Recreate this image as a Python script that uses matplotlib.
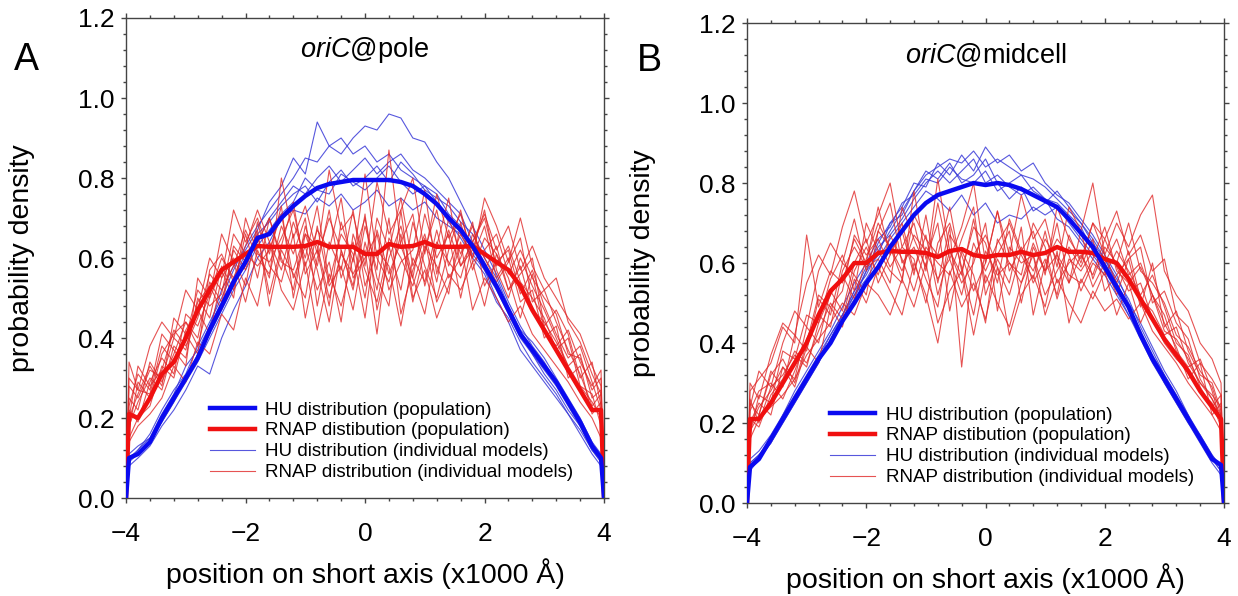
import matplotlib

matplotlib.use("Agg")

import matplotlib.pyplot as plt
from matplotlib.ticker import FormatStrFormatter, MultipleLocator

plt.rcParams["font.family"] = ["Liberation Sans", "DejaVu Sans"]
plt.rcParams["mathtext.fontset"] = "custom"
plt.rcParams["mathtext.rm"] = "Liberation Sans"
plt.rcParams["mathtext.it"] = "Liberation Sans:italic"

# shared x grid (x1000 A) for every curve
X = [-4.0, -3.95, -3.8, -3.6, -3.4, -3.2, -3.0, -2.8, -2.6, -2.4, -2.2, -2.0, -1.8, -1.6, -1.4,
     -1.2, -1.0, -0.8, -0.6, -0.4, -0.2, 0.0, 0.2, 0.4, 0.6, 0.8, 1.0, 1.2, 1.4, 1.6, 1.8,
     2.0, 2.2, 2.4, 2.6, 2.8, 3.0, 3.2, 3.4, 3.6, 3.8, 3.95, 4.0]

# ---- panel A: oriC@pole ----
HU_POP_A = [0, .10, .11, .14, .20, .25, .30, .35, .42, .48, .54, .59, .65, .66, .70, .73, .755, .775,
            .785, .79, .795, .795, .795, .795, .79, .78, .76, .735, .70, .67, .63, .58, .53, .47,
            .41, .37, .33, .29, .24, .19, .13, .10, 0]
RNAP_POP_A = [0, .21, .20, .25, .31, .34, .40, .47, .52, .57, .59, .61, .63, .628, .628, .628, .63,
              .64, .628, .628, .628, .61, .61, .635, .628, .63, .64, .628, .628, .628, .63, .61,
              .59, .57, .53, .47, .42, .37, .32, .27, .22, .22, 0]
HU_IND_A = [
    [0, .09, .12, .16, .22, .27, .31, .38, .44, .50, .57, .63, .68, .72, .76, .80, .85, .84, .88, .86, .90,
     .93, .92, .96, .95, .90, .89, .84, .80, .74, .68, .62, .56, .49, .43, .38, .34, .29, .24, .18, .12, .09, 0],
    [0, .11, .13, .15, .21, .26, .33, .37, .43, .52, .58, .62, .67, .74, .78, .85, .81, .94, .88, .90, .86,
     .88, .84, .86, .82, .80, .78, .76, .71, .68, .63, .57, .52, .46, .40, .36, .31, .27, .22, .18, .12, .10, 0],
    [0, .08, .10, .13, .18, .22, .27, .33, .31, .40, .47, .53, .60, .64, .70, .72, .71, .75, .73, .76, .72,
     .74, .77, .73, .75, .72, .74, .70, .68, .66, .61, .57, .50, .44, .37, .33, .29, .25, .21, .16, .11, .08, 0],
    [0, .10, .12, .15, .19, .24, .30, .36, .41, .47, .53, .60, .66, .69, .73, .76, .78, .74, .79, .82, .78,
     .80, .83, .79, .84, .81, .77, .75, .73, .69, .66, .60, .55, .48, .42, .39, .35, .30, .25, .20, .14, .11, 0],
    [0, .09, .11, .14, .20, .25, .29, .34, .40, .46, .52, .57, .63, .67, .71, .74, .80, .77, .76, .81, .79,
     .77, .80, .83, .79, .76, .78, .74, .69, .65, .60, .56, .49, .45, .39, .34, .30, .26, .21, .17, .12, .09, 0],
    [0, .10, .11, .14, .19, .24, .29, .35, .43, .49, .55, .61, .64, .70, .74, .78, .76, .80, .83, .79, .82,
     .85, .81, .84, .86, .82, .80, .77, .74, .71, .64, .59, .53, .47, .41, .36, .32, .28, .23, .18, .13, .10, 0],
]
RNAP_IND_A = [
    [0, .18, .24, .30, .27, .38, .35, .50, .45, .58, .52, .66, .55, .70, .60, .52, .68, .58, .72, .55, .64,
     .50, .70, .62, .75, .58, .66, .54, .70, .61, .68, .57, .63, .52, .58, .47, .44, .39, .33, .28, .24, .20, 0],
    [0, .25, .22, .34, .29, .36, .44, .40, .54, .49, .62, .57, .66, .51, .63, .74, .56, .62, .48, .69, .59,
     .81, .60, .54, .66, .49, .62, .72, .58, .66, .60, .68, .55, .60, .49, .52, .40, .43, .30, .33, .21, .24, 0],
    [0, .15, .20, .23, .33, .30, .42, .47, .41, .55, .60, .53, .69, .58, .54, .66, .45, .60, .70, .62, .52,
     .68, .57, .87, .63, .55, .71, .60, .66, .50, .64, .70, .58, .63, .54, .50, .45, .37, .40, .28, .26, .18, 0],
    [0, .30, .27, .26, .38, .34, .40, .52, .48, .51, .66, .61, .58, .62, .71, .55, .63, .52, .59, .44, .66,
     .57, .49, .63, .52, .69, .58, .50, .62, .72, .59, .62, .66, .56, .62, .55, .50, .46, .36, .35, .27, .30, 0],
    [0, .20, .33, .28, .32, .42, .38, .45, .56, .52, .58, .67, .60, .56, .68, .61, .70, .48, .64, .57, .72,
     .53, .62, .58, .43, .60, .54, .67, .55, .60, .69, .53, .59, .62, .51, .57, .48, .41, .35, .38, .29, .22, 0],
    [0, .22, .19, .29, .35, .31, .46, .43, .51, .60, .55, .63, .72, .64, .57, .69, .60, .73, .54, .66, .61,
     .45, .67, .56, .64, .71, .53, .64, .59, .55, .66, .60, .54, .59, .65, .49, .52, .44, .37, .31, .23, .26, 0],
    [0, .28, .25, .32, .30, .40, .37, .49, .53, .47, .63, .59, .64, .70, .59, .57, .66, .63, .50, .61, .56,
     .62, .41, .65, .60, .53, .63, .58, .51, .69, .57, .65, .61, .52, .56, .60, .43, .47, .41, .30, .34, .23, 0],
    [0, .17, .29, .25, .36, .41, .44, .38, .50, .57, .50, .70, .61, .59, .65, .72, .58, .67, .62, .75, .55,
     .60, .66, .52, .59, .62, .77, .56, .67, .58, .62, .72, .57, .50, .60, .53, .47, .40, .33, .36, .25, .27, 0],
    [0, .34, .27, .38, .44, .40, .52, .47, .60, .55, .72, .64, .70, .61, .73, .50, .66, .57, .44, .62, .53,
     .71, .47, .60, .68, .55, .46, .63, .75, .58, .64, .71, .62, .68, .57, .63, .55, .50, .45, .41, .33, .28, 0],
    [0, .14, .18, .21, .25, .33, .29, .39, .36, .46, .42, .55, .48, .64, .52, .47, .59, .42, .56, .48, .60,
     .70, .55, .48, .72, .50, .57, .45, .53, .64, .47, .55, .50, .44, .48, .41, .37, .33, .29, .24, .20, .15, 0],
    [0, .23, .31, .27, .41, .37, .33, .55, .50, .66, .59, .49, .62, .55, .80, .65, .73, .61, .82, .67, .71,
     .58, .79, .66, .72, .80, .61, .76, .65, .71, .60, .75, .68, .59, .70, .58, .52, .55, .44, .39, .31, .26, 0],
    [0, .20, .26, .33, .28, .45, .41, .36, .57, .61, .54, .58, .67, .48, .62, .56, .50, .68, .53, .58, .47,
     .64, .52, .70, .46, .57, .65, .49, .56, .52, .59, .48, .61, .55, .45, .56, .42, .38, .42, .34, .28, .32, 0],
]

# ---- panel B: oriC@midcell ----
HU_POP_B = [0, .09, .11, .16, .21, .26, .31, .36, .40, .455, .50, .55, .59, .64, .68, .72, .75, .77,
            .78, .79, .80, .795, .80, .795, .785, .77, .755, .74, .71, .675, .64, .59, .54, .49, .42,
            .36, .31, .26, .21, .16, .11, .095, 0]
RNAP_POP_B = [0, .21, .21, .25, .30, .35, .40, .47, .53, .56, .60, .60, .625, .63, .628, .628, .625,
              .615, .63, .635, .62, .615, .62, .62, .628, .62, .625, .64, .628, .628, .625, .61, .60,
              .56, .51, .46, .41, .37, .33, .28, .24, .21, 0]
HU_IND_B = [
    [0, .10, .12, .16, .22, .27, .32, .37, .42, .47, .53, .57, .63, .68, .73, .78, .82, .84, .86, .85, .88,
     .84, .86, .84, .82, .81, .79, .76, .73, .70, .66, .61, .56, .51, .44, .38, .32, .27, .22, .16, .11, .08, 0],
    [0, .08, .11, .15, .20, .25, .30, .35, .41, .46, .51, .58, .62, .70, .74, .80, .79, .85, .82, .87, .83,
     .89, .85, .87, .83, .85, .80, .77, .75, .71, .67, .62, .57, .50, .45, .39, .33, .28, .22, .17, .12, .09, 0],
    [0, .09, .12, .16, .21, .26, .31, .36, .40, .46, .52, .56, .61, .66, .70, .74, .78, .76, .73, .77, .72,
     .75, .70, .72, .71, .74, .72, .74, .70, .66, .62, .58, .53, .47, .42, .36, .31, .26, .21, .16, .11, .08, 0],
    [0, .11, .13, .17, .22, .28, .33, .38, .43, .49, .55, .60, .66, .69, .75, .77, .81, .80, .84, .81, .80,
     .83, .78, .80, .82, .78, .76, .75, .72, .69, .63, .60, .55, .49, .43, .37, .32, .27, .21, .17, .12, .09, 0],
    [0, .10, .12, .15, .21, .26, .31, .36, .42, .47, .53, .59, .64, .67, .71, .76, .80, .83, .80, .83, .86,
     .80, .82, .79, .77, .79, .76, .71, .69, .65, .61, .57, .52, .47, .41, .35, .30, .25, .20, .15, .10, .07, 0],
    [0, .09, .11, .15, .20, .25, .30, .35, .41, .47, .52, .58, .65, .70, .72, .78, .83, .81, .85, .80, .82,
     .86, .80, .76, .79, .73, .75, .78, .74, .70, .65, .61, .55, .49, .42, .36, .30, .25, .20, .16, .11, .09, 0],
]
RNAP_IND_B = [
    [0, .19, .24, .28, .34, .31, .44, .40, .53, .48, .60, .66, .55, .62, .70, .58, .67, .52, .63, .57, .71,
     .55, .62, .68, .50, .64, .58, .70, .55, .62, .57, .66, .59, .53, .55, .46, .40, .36, .33, .28, .25, .19, 0],
    [0, .25, .22, .33, .29, .42, .38, .51, .47, .60, .57, .52, .68, .75, .60, .64, .56, .49, .67, .62, .53,
     .60, .73, .58, .64, .55, .61, .52, .67, .60, .70, .62, .55, .63, .51, .48, .42, .44, .35, .30, .27, .24, 0],
    [0, .17, .27, .25, .38, .36, .47, .45, .56, .62, .53, .70, .63, .58, .55, .78, .61, .70, .48, .63, .57,
     .45, .66, .60, .57, .70, .64, .51, .61, .58, .63, .60, .66, .57, .60, .52, .45, .39, .31, .35, .22, .25, 0],
    [0, .28, .31, .35, .44, .40, .67, .49, .58, .55, .66, .60, .74, .62, .68, .57, .72, .55, .69, .34, .62,
     .67, .59, .52, .63, .58, .66, .61, .55, .68, .56, .64, .60, .70, .58, .55, .50, .42, .39, .33, .29, .22, 0],
    [0, .21, .19, .27, .31, .38, .35, .43, .50, .46, .58, .64, .57, .67, .61, .53, .64, .60, .57, .66, .74,
     .52, .61, .55, .69, .47, .60, .66, .62, .53, .60, .57, .63, .58, .52, .57, .49, .40, .37, .29, .24, .27, 0],
    [0, .23, .28, .30, .26, .33, .41, .47, .44, .58, .64, .59, .61, .55, .74, .66, .59, .81, .63, .55, .60,
     .70, .48, .64, .60, .62, .52, .58, .64, .59, .66, .53, .57, .61, .64, .50, .53, .45, .41, .31, .26, .21, 0],
    [0, .18, .22, .32, .36, .30, .40, .52, .49, .53, .67, .62, .66, .59, .64, .61, .50, .65, .70, .59, .47,
     .63, .57, .60, .55, .65, .58, .62, .57, .55, .61, .69, .58, .55, .59, .52, .47, .38, .34, .36, .28, .20, 0],
    [0, .26, .20, .29, .32, .37, .34, .45, .52, .57, .51, .61, .70, .64, .58, .67, .63, .56, .61, .52, .65,
     .58, .65, .70, .62, .56, .68, .55, .60, .63, .54, .60, .52, .61, .49, .60, .44, .48, .38, .32, .30, .23, 0],
    [0, .30, .26, .37, .45, .42, .55, .62, .57, .69, .78, .65, .72, .80, .64, .70, .58, .75, .61, .69, .80,
     .60, .73, .62, .77, .66, .71, .59, .74, .68, .80, .62, .70, .64, .72, .77, .58, .52, .48, .40, .36, .30, 0],
    [0, .16, .21, .24, .27, .31, .37, .41, .45, .50, .47, .55, .52, .47, .56, .49, .60, .45, .53, .58, .42,
     .57, .50, .44, .55, .62, .47, .56, .50, .45, .53, .48, .51, .46, .50, .43, .39, .35, .30, .26, .22, .18, 0],
    [0, .24, .33, .29, .40, .48, .44, .58, .65, .60, .71, .58, .68, .64, .56, .72, .66, .62, .74, .58, .69,
     .65, .55, .71, .63, .68, .57, .74, .66, .61, .70, .66, .73, .62, .67, .58, .61, .47, .44, .35, .31, .27, 0],
    [0, .20, .25, .22, .34, .29, .39, .35, .49, .44, .56, .50, .59, .53, .47, .60, .52, .40, .58, .49, .55,
     .46, .59, .42, .52, .57, .49, .63, .45, .56, .51, .58, .47, .55, .45, .52, .43, .41, .36, .30, .26, .22, 0],
]

LABELS = ["HU distribution (population)", "RNAP distibution (population)",
          "HU distribution (individual models)", "RNAP distribution (individual models)"]

BLUE = "#0a0af0"
RED = "#f01010"
THIN_BLUE = "#3a3ad8"
THIN_RED = "#e02828"


def draw_panel(ax, title, hu_pop, rnap_pop, hu_ind, rnap_ind):
    for i, ys in enumerate(hu_ind):
        ax.plot(X, ys, color=THIN_BLUE, lw=0.8, alpha=0.85, label=LABELS[2] if i == 0 else None, zorder=2)
    for i, ys in enumerate(rnap_ind):
        ax.plot(X, ys, color=THIN_RED, lw=0.8, alpha=0.8, label=LABELS[3] if i == 0 else None, zorder=2)
    ax.plot(X, rnap_pop, color=RED, lw=3.2, label=LABELS[1], zorder=3)
    ax.plot(X, hu_pop, color=BLUE, lw=3.2, label=LABELS[0], zorder=4)

    ax.set_xlim(-4, 4)
    ax.set_ylim(0, 1.2)
    ax.xaxis.set_major_locator(MultipleLocator(2))
    ax.xaxis.set_minor_locator(MultipleLocator(0.4))
    ax.yaxis.set_major_locator(MultipleLocator(0.2))
    ax.yaxis.set_minor_locator(MultipleLocator(0.04))
    ax.yaxis.set_major_formatter(FormatStrFormatter("%.1f"))
    ax.tick_params(which="both", direction="out", top=True, right=True, colors="#444444",
                   labelcolor="black", width=1.0)
    ax.tick_params(which="major", length=3.5)
    ax.tick_params(which="minor", length=2)
    ax.tick_params(axis="x", labelsize=19, pad=14)
    ax.tick_params(axis="y", labelsize=19, pad=5)
    for spine in ax.spines.values():
        spine.set_color("#444444")
        spine.set_linewidth(1.0)

    ax.set_xlabel("position on short axis (x1000 Å)", fontsize=20.5)
    ax.set_ylabel("probability density", fontsize=20.5)
    ax.xaxis.set_label_coords(0.5, -0.125)
    ax.yaxis.set_label_coords(-0.19, 0.5)
    ax.text(0.5, 0.933, title, transform=ax.transAxes, ha="center", va="center", fontsize=19.5)

    handles, labels = ax.get_legend_handles_labels()
    order = [labels.index(lab) for lab in LABELS]
    ax.legend([handles[i] for i in order], [labels[i] for i in order], loc="lower left",
              bbox_to_anchor=(0.175, 0.035), frameon=False, fontsize=13.5, borderpad=0,
              borderaxespad=0, handlelength=2.4, handletextpad=0.55, labelspacing=0.2)


fig = plt.figure(figsize=(12.38, 5.96), dpi=100)
ax_a = fig.add_axes([0.1018, 0.1644, 0.3861, 0.8054])
ax_b = fig.add_axes([0.6034, 0.1560, 0.3853, 0.8054])

draw_panel(ax_a, r"$\mathit{oriC}$@pole", HU_POP_A, RNAP_POP_A, HU_IND_A, RNAP_IND_A)
draw_panel(ax_b, r"$\mathit{oriC}$@midcell", HU_POP_B, RNAP_POP_B, HU_IND_B, RNAP_IND_B)

fig.text(26 / 1238, 1 - 60 / 596, "A", fontsize=27, ha="center", va="center")
fig.text(649 / 1238, 1 - 61 / 596, "B", fontsize=27, ha="center", va="center")

fig.savefig("out.png", dpi=100)
